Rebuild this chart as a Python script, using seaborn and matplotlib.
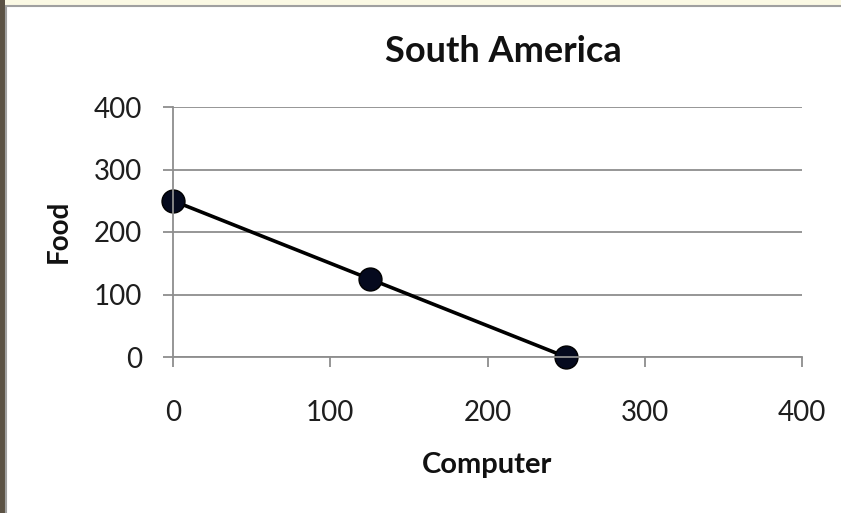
import matplotlib
matplotlib.use("Agg")
import matplotlib.pyplot as plt
from matplotlib.patches import Rectangle
import seaborn as sns
import pandas as pd

# Production possibilities for South America
computer = [0, 125, 250]
food = [250, 125, 0]
x_ticks = [0, 100, 200, 300, 400]
y_ticks = [0, 100, 200, 300, 400]

df = pd.DataFrame({"Computer": computer, "Food": food})

sns.set_theme(style="white")
plt.rcParams["font.family"] = ["Lato", "DejaVu Sans"]

W, H = 841, 513
fig = plt.figure(figsize=(W / 100, H / 100), dpi=100)
fig.patch.set_facecolor("#FBF9E4")

# slide frame: dark strip on the left, white chart area with grey edge
fig.patches.append(Rectangle((0, 0), 5 / W, 1, transform=fig.transFigure,
                             facecolor="#5b5244", edgecolor="none", zorder=-5))
fig.patches.append(Rectangle((6 / W, -0.01), 1.0, 1 - 6 / H + 0.01,
                             transform=fig.transFigure, facecolor="white",
                             edgecolor="#a0a0a0", linewidth=1.5, zorder=-5))

ax = fig.add_axes([173 / W, 1 - 357 / H, 629 / W, 250 / H])
ax.set_zorder(2)
ax.set_facecolor("white")

sns.lineplot(data=df, x="Computer", y="Food", ax=ax, color="black",
             linewidth=2.6, marker="o", markersize=16.5,
             markerfacecolor="#050a1e", markeredgecolor="black",
             markeredgewidth=1.0, clip_on=False)

ax.set_xlim(0, 400)
ax.set_ylim(0, 400)
ax.set_xticks(x_ticks)
ax.set_yticks(y_ticks)
ax.set_xticklabels([str(v) for v in x_ticks])
ax.set_yticklabels([str(v) for v in y_ticks])

grid_col = "#8e8e8e"
ax.yaxis.grid(True, color=grid_col, linewidth=1.3)
ax.xaxis.grid(False)
ax.set_axisbelow(True)
for side in ("top", "right"):
    ax.spines[side].set_visible(False)
for side in ("left", "bottom"):
    ax.spines[side].set_color(grid_col)
    ax.spines[side].set_linewidth(1.3)

ax.tick_params(axis="x", direction="out", length=7, width=1.3, color=grid_col,
               pad=24, labelsize=20, labelcolor="#1e1e1e", bottom=True)
ax.tick_params(axis="y", direction="out", length=7, width=1.3, color=grid_col,
               pad=15, labelsize=20, labelcolor="#1e1e1e", left=True)

ax.set_xlabel("")
ax.set_ylabel("")
fig.text(487 / W, 1 - 465 / H, "Computer", ha="center", va="center",
         fontsize=21, fontweight="bold", color="#111111")
fig.text(59 / W, 1 - 231 / H, "Food", ha="center", va="center",
         rotation=90, fontsize=20, fontweight="bold", color="#111111")
fig.text(503 / W, 1 - 52 / H, "South America", ha="center", va="center",
         fontsize=26, fontweight="bold", color="#111111")

fig.savefig("out.png", dpi=100)
